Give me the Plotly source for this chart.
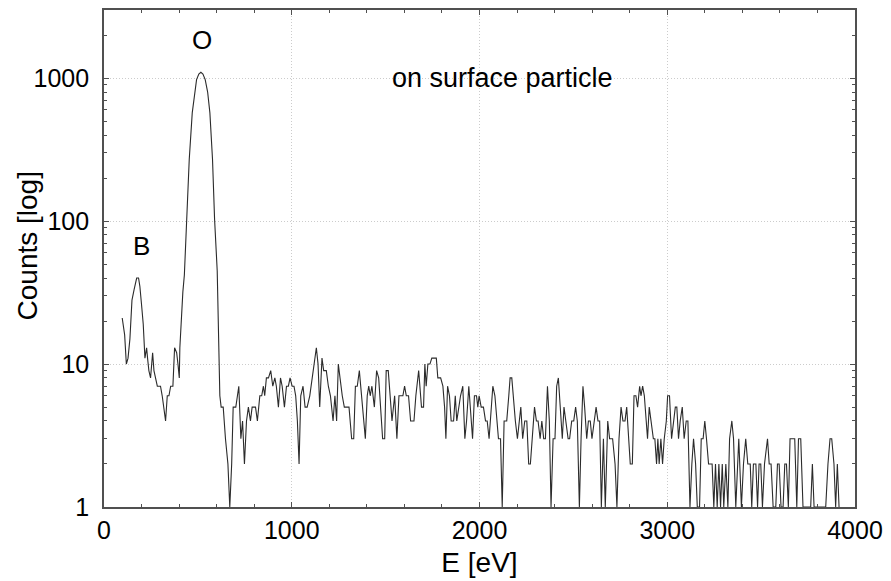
import math
import plotly.graph_objects as go

# Energy axis [eV] and detector counts for the spectrum trace
energy = [97, 110, 119, 128, 138, 149, 160, 174, 184, 191, 200, 209, 218, 227, 232, 239, 248, 259, 266, 275,
          284, 293, 301, 310, 319, 328, 337, 346, 355, 367, 376, 387, 394, 401, 404, 411, 420, 428, 440, 454,
          470, 482, 493, 505, 516, 527, 539, 552, 564, 578, 589, 603, 608, 612, 617, 624, 635, 647, 660, 670,
          680, 688, 702, 718, 729, 738, 748, 759, 769, 780, 789, 807, 817, 830, 840, 849, 856, 865, 876, 888,
          899, 910, 918, 929, 940, 949, 961, 972, 982, 991, 1002, 1012, 1021, 1030, 1039, 1048, 1060, 1071, 1082, 1096,
          1110, 1121, 1131, 1140, 1149, 1161, 1170, 1184, 1195, 1206, 1220, 1230, 1239, 1248, 1261, 1269, 1280, 1305, 1319, 1330,
          1339, 1349, 1360, 1371, 1381, 1392, 1402, 1410, 1418, 1427, 1440, 1452, 1463, 1473, 1484, 1495, 1503, 1514, 1523, 1534,
          1548, 1560, 1571, 1583, 1592, 1601, 1610, 1622, 1633, 1651, 1661, 1676, 1684, 1691, 1702, 1709, 1716, 1725, 1736, 1746,
          1770, 1778, 1793, 1805, 1814, 1821, 1830, 1840, 1849, 1862, 1871, 1879, 1899, 1911, 1922, 1931, 1943, 1952, 1963, 1973,
          1984, 1991, 1998, 2009, 2021, 2032, 2041, 2051, 2062, 2071, 2082, 2092, 2101, 2112, 2121, 2131, 2145, 2156, 2163, 2172,
          2183, 2191, 2202, 2211, 2220, 2230, 2241, 2252, 2262, 2271, 2282, 2293, 2303, 2312, 2323, 2332, 2342, 2351, 2362, 2372,
          2381, 2392, 2402, 2411, 2420, 2431, 2441, 2450, 2461, 2472, 2480, 2491, 2502, 2512, 2521, 2532, 2541, 2551, 2560, 2571,
          2580, 2590, 2599, 2610, 2621, 2631, 2640, 2649, 2660, 2670, 2683, 2693, 2709, 2722, 2732, 2743, 2754, 2764, 2775, 2784,
          2794, 2803, 2814, 2823, 2833, 2842, 2853, 2860, 2869, 2878, 2888, 2895, 2904, 2915, 2926, 2934, 2943, 2950, 2957, 2966,
          2975, 2984, 2995, 3002, 3012, 3023, 3034, 3043, 3051, 3060, 3069, 3080, 3090, 3101, 3110, 3121, 3131, 3140, 3151, 3160,
          3172, 3181, 3191, 3200, 3209, 3220, 3231, 3239, 3248, 3257, 3266, 3275, 3284, 3293, 3301, 3312, 3323, 3332, 3344, 3353,
          3365, 3374, 3381, 3395, 3406, 3418, 3429, 3442, 3450, 3459, 3472, 3481, 3489, 3498, 3507, 3518, 3534, 3543, 3553, 3564,
          3578, 3587, 3596, 3606, 3617, 3626, 3635, 3645, 3654, 3679, 3690, 3699, 3711, 3723, 3764, 3773, 3782, 3844, 3856, 3867,
          3876, 3888, 3897, 3906, 3915]

counts = [21, 16, 10, 11, 15, 28, 33, 40, 40, 35, 26, 19, 11, 13, 11, 9, 8, 12, 9, 8,
          7, 7, 7, 6, 5, 4, 6, 6, 7, 7, 13, 12, 10, 8, 13, 22, 32, 42, 103, 270,
          572, 800, 977, 1070, 1100, 1070, 977, 800, 572, 270, 103, 45, 22, 10, 6, 5, 5, 3, 2, 1,
          2, 5, 5, 7, 3, 4, 2, 4, 5, 4, 5, 5, 4, 6, 6, 7, 6, 8, 8, 9,
          7, 8, 7, 5, 8, 7, 5, 7, 7, 8, 7, 7, 6, 4, 2, 6, 7, 5, 5, 6,
          8, 10, 13, 10, 5, 11, 9, 9, 7, 6, 4, 6, 4, 10, 7, 6, 5, 5, 3, 3,
          7, 7, 9, 6, 4, 3, 6, 7, 6, 7, 5, 9, 8, 5, 3, 3, 9, 9, 6, 4,
          6, 3, 6, 6, 6, 7, 6, 6, 4, 4, 6, 9, 7, 5, 5, 10, 7, 10, 10, 11,
          11, 8, 8, 7, 5, 3, 7, 6, 4, 4, 6, 4, 6, 7, 3, 4, 7, 5, 3, 6,
          6, 5, 6, 5, 5, 4, 4, 3, 5, 7, 6, 4, 3, 3, 1, 4, 4, 6, 8, 8,
          5, 4, 3, 4, 5, 3, 4, 4, 2, 2, 3, 5, 4, 4, 3, 4, 3, 3, 7, 4,
          1, 3, 3, 7, 8, 5, 3, 5, 4, 3, 3, 4, 4, 5, 4, 1, 3, 7, 5, 3,
          4, 4, 3, 4, 5, 4, 4, 1, 3, 1, 4, 3, 3, 2, 1, 3, 5, 4, 4, 5,
          3, 2, 2, 6, 6, 5, 7, 6, 7, 6, 4, 3, 5, 4, 3, 3, 2, 3, 2, 3,
          2, 3, 4, 6, 6, 3, 4, 5, 5, 3, 4, 5, 3, 4, 4, 1, 2, 3, 2, 1,
          1, 3, 3, 4, 3, 2, 2, 2, 1, 2, 1, 2, 1, 2, 1, 2, 1, 3, 4, 3,
          1, 2, 3, 1, 2, 3, 2, 2, 1, 2, 2, 1, 2, 2, 1, 2, 3, 2, 2, 1,
          1, 2, 2, 1, 1, 2, 2, 1, 3, 3, 1, 3, 3, 1, 1, 2, 1, 1, 2, 3,
          3, 2, 1, 2, 1]

x_ticks = [0, 1000, 2000, 3000, 4000]
y_ticks = [1, 10, 100, 1000]
y_minor = [m * d for d in (1, 10, 100) for m in range(2, 10)] + [2000, 3000]

# Peak labels: (energy, counts, text)
peak_labels = [(521, 1850, "O"), (202, 67, "B")]
note = (2122, 1000, "on surface particle")

axis_color = "#505050"
grid_color = "#cccccc"
font_family = "Liberation Sans, Arial, sans-serif"

fig = go.Figure()
fig.add_trace(go.Scatter(
    x=energy, y=counts, mode="lines",
    line=dict(color="#2b2b2b", width=1.1),
    hoverinfo="x+y",
))

for ex, cy, txt in peak_labels:
    fig.add_annotation(x=ex, y=math.log10(cy), xref="x", yref="y", text=txt,
                       showarrow=False, font=dict(size=26, family=font_family, color="black"))
fig.add_annotation(x=note[0], y=math.log10(note[1]), xref="x", yref="y", text=note[2],
                   showarrow=False, font=dict(size=27, family=font_family, color="black"))

# Vertical axis title, placed left of the tick labels
fig.add_annotation(x=-0.102, y=0.525, xref="paper", yref="paper", text="Counts [log]",
                   textangle=-90, showarrow=False, xanchor="center", yanchor="middle",
                   font=dict(size=28, family=font_family, color="black"))

fig.update_xaxes(
    range=[0, 4000], tickmode="array", tickvals=x_ticks, ticktext=[str(v) for v in x_ticks],
    ticks="inside", ticklen=5, tickwidth=1, tickcolor=axis_color,
    showline=True, linecolor=axis_color, linewidth=1.6, mirror="allticks",
    showgrid=True, gridcolor=grid_color, griddash="1px,2px", gridwidth=1, zeroline=False,
    minor=dict(dtick=200, tick0=0, ticks="inside", ticklen=3, tickcolor=axis_color, showgrid=False),
    tickfont=dict(size=25, family=font_family, color="black"),
    title=dict(text="E [eV]", font=dict(size=28, family=font_family, color="black"), standoff=10),
)
fig.update_yaxes(
    type="log", range=[0, math.log10(3000)], tickmode="array", tickvals=y_ticks,
    ticktext=[str(v) for v in y_ticks],
    ticks="inside", ticklen=5, tickwidth=1, tickcolor=axis_color,
    showline=True, linecolor=axis_color, linewidth=1.6, mirror="allticks",
    showgrid=True, gridcolor=grid_color, griddash="1px,2px", gridwidth=1, zeroline=False,
    minor=dict(tickmode="array", tickvals=y_minor, ticks="inside", ticklen=3,
               tickcolor=axis_color, showgrid=False),
    tickfont=dict(size=25, family=font_family, color="black"),
    ticklabelstandoff=8,
)

fig.update_layout(
    width=891, height=581,
    margin=dict(l=104, r=34, t=8, b=72),
    plot_bgcolor="white", paper_bgcolor="white",
    showlegend=False,
    font=dict(family=font_family, color="black"),
)

fig.write_html("out.html")
